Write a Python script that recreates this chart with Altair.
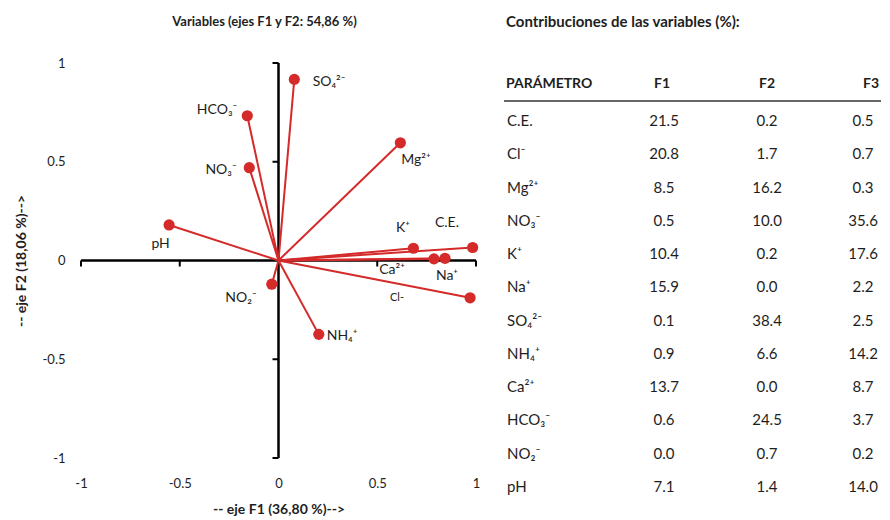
import altair as alt
import pandas as pd

# ---------------- data ----------------
params = ["C.E.", "Cl⁻", "Mg²⁺", "NO₃⁻", "K⁺", "Na⁺", "SO₄²⁻", "NH₄⁺", "Ca²⁺", "HCO₃⁻", "NO₂⁻", "pH"]
plot_labels = ["C.E.", "Cl-", "Mg²⁺", "NO₃⁻", "K⁺", "Na⁺", "SO₄²⁻", "NH₄⁺", "Ca²⁺", "HCO₃⁻", "NO₂⁻", "pH"]
f1_load = [0.983, 0.970, 0.617, -0.148, 0.683, 0.843, 0.080, 0.204, 0.787, -0.158, -0.034, -0.554]
f2_load = [0.066, -0.189, 0.596, 0.470, 0.062, 0.011, 0.917, -0.374, 0.008, 0.733, -0.120, 0.180]

contrib_f1 = [21.5, 20.8, 8.5, 0.5, 10.4, 15.9, 0.1, 0.9, 13.7, 0.6, 0.0, 7.1]
contrib_f2 = [0.2, 1.7, 16.2, 10.0, 0.2, 0.0, 38.4, 6.6, 0.0, 24.5, 0.7, 1.4]
contrib_f3 = [0.5, 0.7, 0.3, 35.6, 17.6, 2.2, 2.5, 14.2, 8.7, 3.7, 0.2, 14.0]

headers = ["PARÁMETRO", "F1", "F2", "F3"]
axis_ticks = [-1, -0.5, 0.5, 1]
tick_labels = [-1, -0.5, 0, 0.5, 1]

# label placement (data units), styling only
label_place = {
    "C.E.": (0.853, 0.190), "Cl⁻": (0.600, -0.190), "Mg²⁺": (0.696, 0.509),
    "NO₃⁻": (-0.291, 0.458), "K⁺": (0.630, 0.165), "Na⁺": (0.853, -0.078),
    "SO₄²⁻": (0.256, 0.904), "NH₄⁺": (0.322, -0.382), "Ca²⁺": (0.575, -0.048),
    "HCO₃⁻": (-0.311, 0.762), "NO₂⁻": (-0.190, -0.190), "pH": (-0.597, 0.084),
}

FONT = "Lato"
RED = "#d42a2a"
INK = "#1e1e1e"

df = pd.DataFrame({"param": params, "label": plot_labels, "f1": f1_load, "f2": f2_load})
df["lx"] = [label_place[p][0] for p in params]
df["ly"] = [label_place[p][1] for p in params]

ticks_df = pd.DataFrame({"t": axis_ticks})
ax_df = pd.DataFrame({"lo": [min(axis_ticks)], "hi": [max(axis_ticks)]})

xs = alt.Scale(domain=[-1, 1], nice=False, zero=False)
ys = alt.Scale(domain=[-1, 1], nice=False, zero=False)

x_axis = alt.Axis(values=tick_labels, domain=False, ticks=False, grid=False,
                  labelPadding=19, labelFlush=False, labelOverlap=False,
                  labelExpr="'' + datum.value", labelFont=FONT, labelFontSize=13,
                  labelColor=INK, title="-- eje F1 (36,80 %)-->", titleFont=FONT,
                  titleFontSize=14, titleFontWeight="bold", titlePadding=12,
                  titleColor=INK)
y_axis = alt.Axis(values=tick_labels, domain=False, ticks=False, grid=False,
                  labelPadding=16, labelFlush=False, labelOverlap=False,
                  labelExpr="'' + datum.value", labelFont=FONT, labelFontSize=13,
                  labelColor=INK, title="-- eje F2 (18,06 %)-->", titleFont=FONT,
                  titleFontSize=14, titleFontWeight="bold", titlePadding=14,
                  titleColor=INK)


def X(f):
    return alt.X(f, type="quantitative", scale=xs, axis=x_axis)


def Y(f):
    return alt.Y(f, type="quantitative", scale=ys, axis=y_axis)


vectors = alt.Chart(df).transform_calculate(o="0").mark_rule(
    color=RED, strokeWidth=2).encode(x=X("o"), y=Y("o"), x2="f1", y2="f2")

xline = alt.Chart(ax_df).transform_calculate(o="0").mark_rule(
    color="#000", strokeWidth=2.5).encode(x=X("lo"), x2="hi", y=Y("o"))
yline = alt.Chart(ax_df).transform_calculate(o="0").mark_rule(
    color="#000", strokeWidth=2.5).encode(y=Y("lo"), y2="hi", x=X("o"))

xticks = alt.Chart(ticks_df).transform_calculate(o="0").mark_rule(
    color="#000", strokeWidth=2, y2Offset=6).encode(x=X("t"), y=Y("o"), y2="o")
yticks = alt.Chart(ticks_df).transform_calculate(o="0").mark_rule(
    color="#000", strokeWidth=2, x2Offset=-6).encode(y=Y("t"), x=X("o"), x2="o")

dots = alt.Chart(df).mark_circle(size=125, color=RED, opacity=1).encode(
    x=X("f1"), y=Y("f2"))

labels = alt.Chart(df).mark_text(font=FONT, color=INK, align="center",
                                 baseline="middle").encode(
    x=X("lx"), y=Y("ly"), text="label:N",
    size=alt.condition(alt.datum.label == "Cl-", alt.value(11), alt.value(14)))

biplot = alt.layer(xline, yline, xticks, yticks, vectors, dots, labels).properties(
    width=395, height=395,
    title=alt.TitleParams("Variables (ejes F1 y F2: 54,86 %)", font=FONT,
                          fontSize=13, fontWeight="bold", color=INK, offset=28,
                          anchor="middle", frame="group", dx=-14))

# ---------------- table ----------------
tdf = pd.DataFrame({"param": params, "row": list(range(1, len(params) + 1)),
                    "c1": contrib_f1, "c2": contrib_f2, "c3": contrib_f3})
ry = alt.Y("row:Q", scale=alt.Scale(domain=[1, len(params)], range=[58, 424]), axis=None)

base_t = alt.Chart(tdf)
col_param = base_t.mark_text(font=FONT, fontSize=15, color=INK, align="left",
                             baseline="middle").encode(
    x=alt.value(8), y=ry, text="param:N")
col1 = base_t.mark_text(font=FONT, fontSize=15, color=INK, align="center",
                        baseline="middle").encode(
    x=alt.value(165), y=ry, text=alt.Text("c1:Q", format=".1f"))
col2 = base_t.mark_text(font=FONT, fontSize=15, color=INK, align="center",
                        baseline="middle").encode(
    x=alt.value(268), y=ry, text=alt.Text("c2:Q", format=".1f"))
col3 = base_t.mark_text(font=FONT, fontSize=15, color=INK, align="center",
                        baseline="middle").encode(
    x=alt.value(364), y=ry, text=alt.Text("c3:Q", format=".1f"))

header_x = [7, 163, 268, 372]
header_align = ["left", "center", "center", "center"]
head_layers = []
for h, hx, ha in zip(headers, header_x, header_align):
    head_layers.append(
        alt.Chart(pd.DataFrame({"h": [h]})).mark_text(
            font=FONT, fontSize=14, fontWeight="bold", color=INK, align=ha,
            baseline="middle").encode(x=alt.value(hx), y=alt.value(21), text="h:N"))

hrule = alt.Chart(pd.DataFrame({"h": [0]})).mark_rule(color="#333", strokeWidth=1.5).encode(
    x=alt.value(5), x2=alt.value(382), y=alt.value(38))

table = alt.layer(hrule, *head_layers, col_param, col1, col2, col3).properties(
    width=382, height=440,
    title=alt.TitleParams("Contribuciones de las variables (%):", font=FONT,
                          fontSize=15, fontWeight="bold", color=INK, offset=33,
                          anchor="start", frame="group", dx=7))

chart = alt.hconcat(biplot, table, spacing=19).properties(
    padding={"left": 6, "top": 7, "right": 0, "bottom": 0},
    background="white",
).configure_view(strokeWidth=0, stroke="transparent")

chart.save("out.html", embed_options={"renderer": "svg", "actions": False})
